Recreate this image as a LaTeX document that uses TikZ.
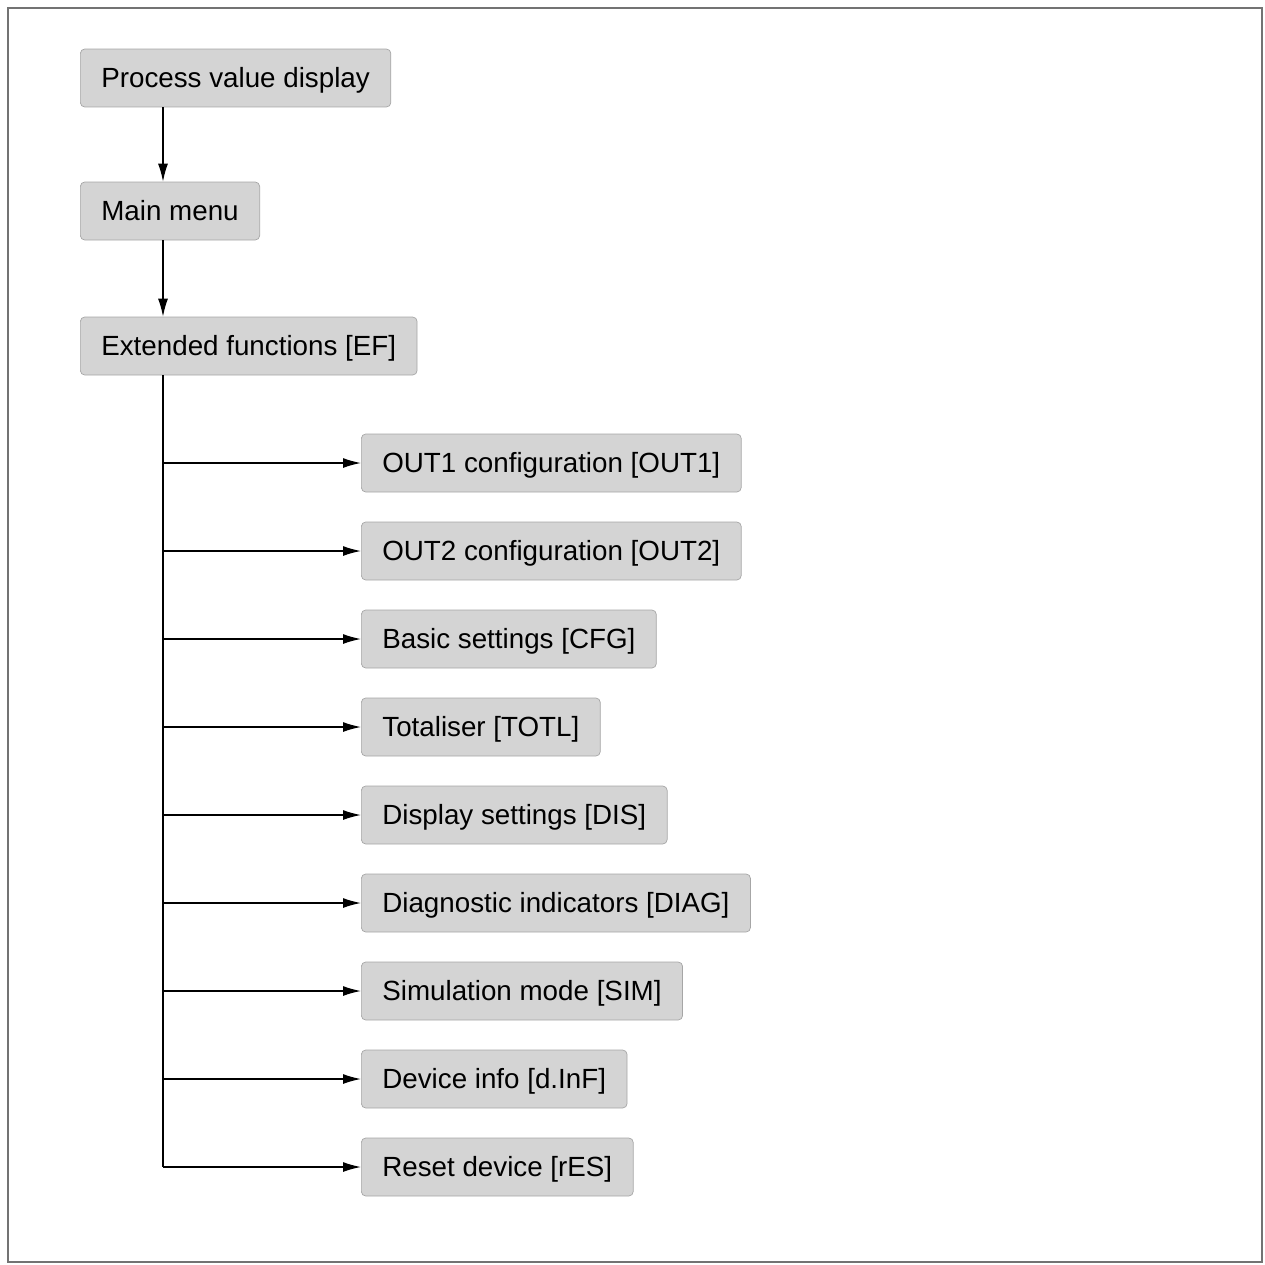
\documentclass[tikz,border=0pt]{standalone}
\usepackage{fontspec}
\setmainfont{Liberation Sans}
\usetikzlibrary{arrows.meta,positioning}

\tikzset{
  menu/.style={draw=black!35,fill=black!17,rounded corners=2.5pt,anchor=west,
    minimum height=1.16cm,inner xsep=0.42cm,text height=2.3ex,text depth=0.3ex,
    font=\fontsize{15.8}{18}\selectfont},
  link/.style={-{Latex[length=0.36cm,width=0.2cm]},line width=0.8pt}
}

\begin{document}
\begin{tikzpicture}[x=0.02cm,y=-0.02cm]
    \draw[black!55,line width=0.8pt] (8,8) rectangle (1262,1262);
    \useasboundingbox (0,0) rectangle (1265,1265);

    \node[menu] (pvd) at (80,78) {Process value display};
    \node[menu] (main) at (80,211) {Main menu};
    \node[menu] (ef) at (80,346) {Extended functions [EF]};

    \node[menu] (out1) at (361,463) {OUT1 configuration [OUT1]};
    \node[menu] (out2) at (361,551) {OUT2 configuration [OUT2]};
    \node[menu] (cfg) at (361,639) {Basic settings [CFG]};
    \node[menu] (totl) at (361,727) {Totaliser [TOTL]};
    \node[menu] (dis) at (361,815) {Display settings [DIS]};
    \node[menu] (diag) at (361,903) {Diagnostic indicators [DIAG]};
    \node[menu] (sim) at (361,991) {Simulation mode [SIM]};
    \node[menu] (dinf) at (361,1079) {Device info [d.InF]};
    \node[menu] (res) at (361,1167) {Reset device [rES]};

    \coordinate (top) at (163,0);
    \draw[link] (pvd.south -| top) -- (main.north -| top);
    \draw[link] (main.south -| top) -- (ef.north -| top);
    \draw[line width=0.8pt] (ef.south -| top) -- (res.west -| top);
    \foreach \n in {out1,out2,cfg,totl,dis,diag,sim,dinf,res}
      \draw[link] (\n.west -| top) -- (\n.west);
\end{tikzpicture}
\end{document}
